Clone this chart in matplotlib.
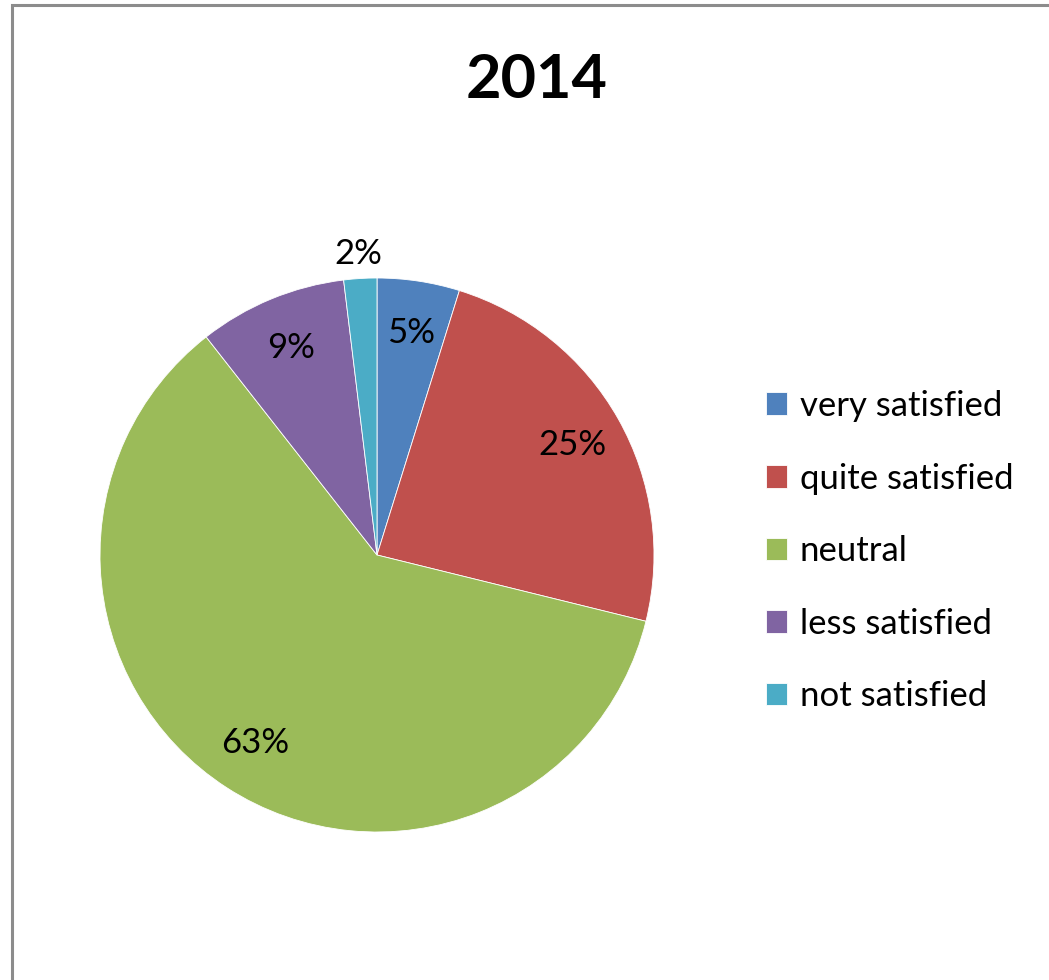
import numpy as np
import matplotlib.pyplot as plt
from matplotlib.patches import Rectangle

plt.rcParams['font.family'] = ['Lato', 'DejaVu Sans']

# 满意度调查 2014
categories = ['very satisfied', 'quite satisfied', 'neutral', 'less satisfied', 'not satisfied']
values = [5, 25, 63, 9, 2]
colors = ['#4F81BD', '#C0504D', '#9BBB59', '#8064A2', '#4BACC6']

W, H = 1049, 980
fig = plt.figure(figsize=(W / 100, H / 100), dpi=100)

# 外框
fig.patches.append(Rectangle((12 / W, -0.05), 1.1, (H - 5) / H + 0.05,
                             transform=fig.transFigure, fill=False,
                             edgecolor='#8c8c8c', linewidth=2.2))

# 饼图区域 (正方形像素)
cx, cy, r = 377, 555, 277
ax = fig.add_axes([(cx - r) / W, (H - cy - r) / H, 2 * r / W, 2 * r / H])
wedges, _ = ax.pie(values, colors=colors, startangle=90, counterclock=False,
                   radius=1, wedgeprops=dict(edgecolor='white', linewidth=0.6))
ax.set_xlim(-1, 1)
ax.set_ylim(-1, 1)
ax.axis('off')

# 百分比标签
for w, v in zip(wedges, values):
    ang = np.deg2rad((w.theta1 + w.theta2) / 2)
    dist = 1.09 if v < 3 else 0.81
    ax.text(dist * np.cos(ang), dist * np.sin(ang), f'{v}%',
            ha='center', va='center', fontsize=25, color='black')

fig.text(537 / W, 1 - 80 / H, '2014', ha='center', va='center',
         fontsize=44, fontweight='bold')

fig.legend(wedges, categories, loc='upper left',
           bbox_to_anchor=(752 / W, 1 - 376 / H), frameon=False,
           fontsize=25, handlelength=0.62, handleheight=0.62,
           handletextpad=0.35, labelspacing=1.17, borderaxespad=0)

fig.savefig('out.png', dpi=100)
